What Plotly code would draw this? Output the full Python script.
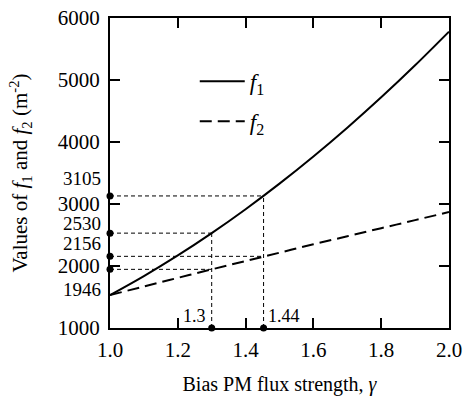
import plotly.graph_objects as go

# Data
gamma = [1.0, 1.1, 1.2, 1.3, 1.4, 1.5, 1.6, 1.7, 1.8, 1.9, 2.0]
f1 = [1530, 1837, 2170, 2530, 2916, 3328, 3766, 4230, 4720, 5237, 5780]
f2 = [1530, 1670, 1808, 1946, 2080, 2215, 2350, 2480, 2610, 2740, 2870]

ref_gamma = [1.3, 1.453]
ref_gamma_labels = ["1.3", "1.44"]
ref_f1 = [2530, 3130]
ref_f1_labels = ["2530", "3105"]
ref_f2 = [1946, 2156]
ref_f2_labels = ["1946", "2156"]

x_ticks = [1.0, 1.2, 1.4, 1.6, 1.8, 2.0]
y_ticks = [1000, 2000, 3000, 4000, 5000, 6000]

FONT = "Liberation Serif"
fig = go.Figure()

# guide lines
guide = dict(color="black", width=1, dash="4px,3px")
for g, a, b in zip(ref_gamma, ref_f1, ref_f2):
    fig.add_trace(go.Scatter(x=[g, g], y=[y_ticks[0], a], mode="lines", line=guide,
                             showlegend=False, hoverinfo="skip"))
    fig.add_trace(go.Scatter(x=[x_ticks[0], g], y=[a, a], mode="lines", line=guide,
                             showlegend=False, hoverinfo="skip"))
    fig.add_trace(go.Scatter(x=[x_ticks[0], g], y=[b, b], mode="lines", line=guide,
                             showlegend=False, hoverinfo="skip"))

fig.add_trace(go.Scatter(x=gamma, y=f1, mode="lines", name="<i>f</i><sub>1</sub>",
                         line=dict(color="black", width=2, shape="spline"),
                         legendgroup="a"))
fig.add_trace(go.Scatter(x=gamma, y=f2, mode="lines", name="<i>f</i><sub>2</sub>",
                         line=dict(color="black", width=2, dash="12px,6px", shape="spline"),
                         legendgroup="b"))

# dots on the axes
fig.add_trace(go.Scatter(x=[x_ticks[0]] * 4, y=ref_f1 + ref_f2, mode="markers",
                         marker=dict(color="black", size=7), cliponaxis=False,
                         showlegend=False, hoverinfo="skip"))
fig.add_trace(go.Scatter(x=ref_gamma, y=[y_ticks[0]] * 2, mode="markers",
                         marker=dict(color="black", size=7), cliponaxis=False,
                         showlegend=False, hoverinfo="skip"))

ann = []
shifts = {"3105": 17, "2530": 10, "2156": 13, "1946": -20}
for v, lab in zip(ref_f1 + ref_f2, ref_f1_labels + ref_f2_labels):
    ann.append(dict(x=0, xref="paper", y=v, yref="y", text=lab, showarrow=False,
                    xanchor="right", xshift=-7, yshift=shifts[lab],
                    font=dict(family=FONT, size=19, color="black")))
ann.append(dict(x=ref_gamma[0], y=y_ticks[0], text=ref_gamma_labels[0], showarrow=False,
                xanchor="right", yanchor="bottom", xshift=-4, yshift=0,
                font=dict(family=FONT, size=18, color="black")))
ann.append(dict(x=ref_gamma[1], y=y_ticks[0], text=ref_gamma_labels[1], showarrow=False,
                xanchor="left", yanchor="bottom", xshift=2, yshift=0,
                font=dict(family=FONT, size=18, color="black")))

axis_common = dict(showline=True, linecolor="black", linewidth=2, mirror="ticks",
                   ticks="inside", ticklen=10, tickwidth=2, tickcolor="black",
                   showgrid=False, zeroline=False, automargin=False,
                   tickfont=dict(family=FONT, size=21, color="black"))

fig.update_layout(
    width=465, height=401,
    margin=dict(l=110, r=16, t=18, b=73),
    paper_bgcolor="white", plot_bgcolor="white",
    font=dict(family=FONT, color="black"),
    xaxis=dict(range=[1.0, 2.0], tickvals=x_ticks, ticktext=[f"{v:.1f}" for v in x_ticks],
               title=dict(text="Bias PM flux strength, <i>γ</i>",
                          font=dict(family=FONT, size=20), standoff=16),
               ticklabelstandoff=2,
               **axis_common),
    yaxis=dict(range=[1000, 6000], tickvals=y_ticks,
               title=dict(text="Values of <i>f</i><sub>1</sub> and <i>f</i><sub>2</sub> (m<sup>-2</sup>)",
                          font=dict(family=FONT, size=21), standoff=24),
               ticklabelstandoff=4,
               **axis_common),
    legend=dict(x=0.25, y=0.865, xanchor="left", yanchor="top", bgcolor="rgba(0,0,0,0)",
                font=dict(family=FONT, size=23, color="black"), tracegroupgap=7,
                itemwidth=45),
    annotations=ann,
    showlegend=True,
)

fig.write_html("out.html")
